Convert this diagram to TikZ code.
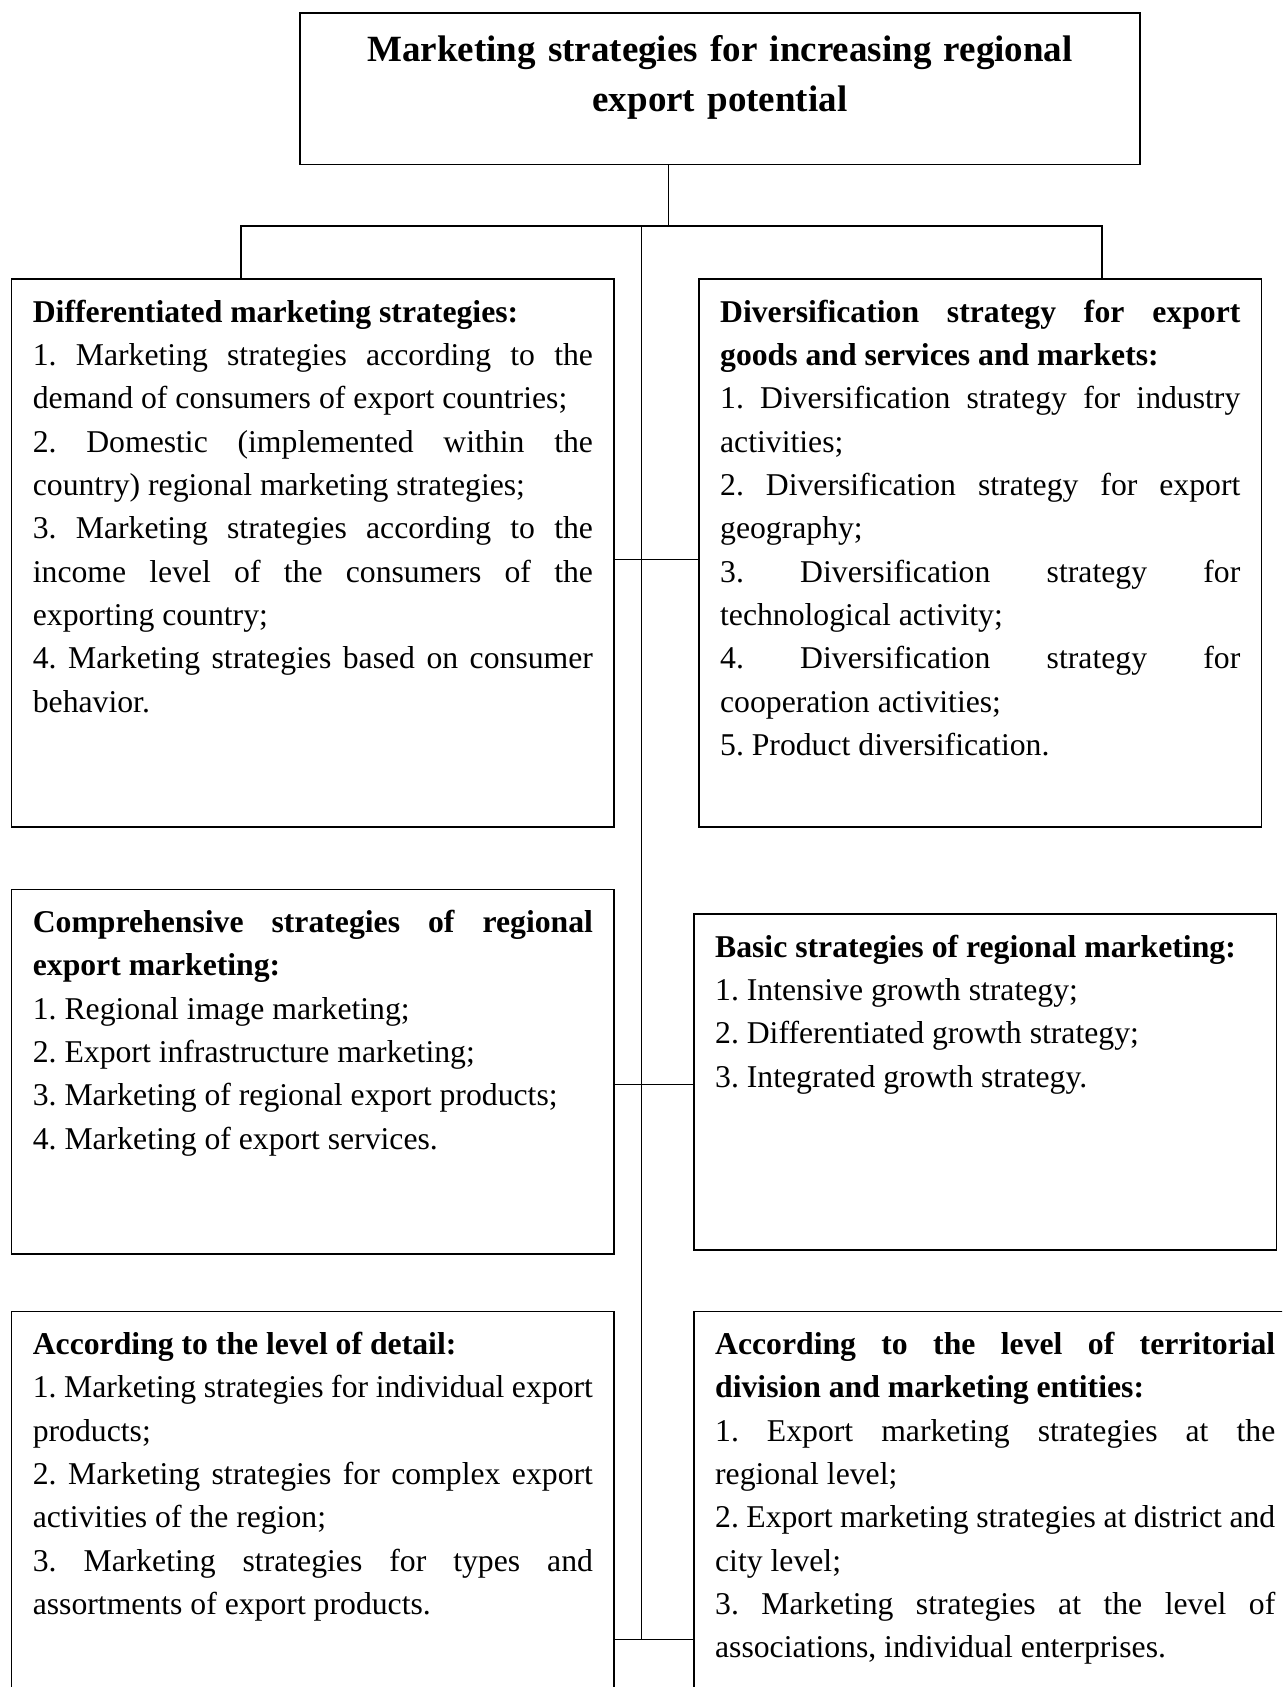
\documentclass[tikz,border=0pt]{standalone}
\usepackage{fontspec}
\setmainfont{Liberation Serif}
\frenchspacing
\tikzset{
	box/.style={draw, line width=0.6pt, anchor=north west, outer sep=0pt, inner xsep=8pt, inner ysep=0pt,
		align=justify, text height=16.4pt, font=\fontsize{12}{16.4}\selectfont,
		execute at begin node={\frenchspacing\hyphenpenalty=10000 \tolerance=10000 \emergencystretch=0pt}},
	titlebox/.style={box, align=center, text height=18.3pt, font=\fontsize{14}{18.9}\selectfont\bfseries},
	link/.style={line width=0.45pt}
}

\begin{document}
\begin{tikzpicture}[x=0.3785pt, y=-0.3785pt]
	\clip (0,0) rectangle (1282,1687);
	
	% --- Title ---
	\node[titlebox, text width=301.9pt, text depth=39pt] (title) at (300,13.3)
		{Marketing strategies for increasing regional\\ export potential};
	
	% --- Left column ---
	\node[box, text width=212pt, text depth=191.1pt] (diff) at (11.7,279) {%
		\textbf{Differentiated marketing strategies:}\par
		1. Marketing strategies according to the\linebreak demand of consumers of export countries;\par
		2. Domestic (implemented within the\linebreak country) regional marketing strategies;\par
		3. Marketing strategies according to the\linebreak income level of the consumers of the\linebreak exporting country;\par
		4. Marketing strategies based on consumer\linebreak behavior.};
	\node[box, text width=212pt, text depth=121.6pt] (compr) at (11.7,889.3) {%
		\textbf{Comprehensive strategies of regional\linebreak export marketing:}\par
		1. Regional image marketing;\par
		2. Export infrastructure marketing;\par
		3. Marketing of regional export products;\par
		4. Marketing of export services.};
	\node[box, text width=212pt, text depth=138.3pt] (detail) at (11.7,1311.3) {%
		\textbf{According to the level of detail:}\par
		1. Marketing strategies for individual export\linebreak products;\par
		2. Marketing strategies for complex export\linebreak activities of the region;\par
		3. Marketing strategies for types and\linebreak assortments of export products.};
	
	% --- Right column ---
	\node[box, text width=196.9pt, text depth=191.1pt] (divers) at (699,279) {%
		\textbf{Diversification strategy for export\linebreak goods and services and markets:}\par
		1. Diversification strategy for industry\linebreak activities;\par
		2. Diversification strategy for export\linebreak geography;\par
		3. Diversification strategy for\linebreak technological activity;\par
		4. Diversification strategy for\linebreak cooperation activities;\par
		5. Product diversification.};
	\node[box, text width=204.4pt, text depth=110.9pt] (basic) at (694,913.9) {%
		\textbf{Basic strategies of regional marketing:}\par
		1. Intensive growth strategy;\par
		2. Differentiated growth strategy;\par
		3. Integrated growth strategy.};
	\node[box, text width=212pt, text depth=138.3pt] (territ) at (694,1311.3) {%
		\textbf{According to the level of territorial\linebreak division and marketing entities:}\par
		1. Export marketing strategies at the\linebreak regional level;\par
		2. Export marketing strategies at district and\linebreak city level;\par
		3. Marketing strategies at the level of\linebreak associations, individual enterprises.};
	
	% --- Connectors ---
	\coordinate (fork) at (668.7,226);
	\coordinate (lfork) at (241,226);
	\coordinate (rfork) at (1102,226);
	\coordinate (spinetop) at (641.3,226);
	\coordinate (spineend) at (641.3,1639.3);
	\coordinate (j1) at (641.3,559.3);
	\coordinate (j2) at (641.3,1084.3);
	
	\draw[link] (title.south -| fork) -- (fork);
	\draw[link] (diff.north -| lfork) -- (lfork) -- (rfork) -- (divers.north -| rfork);
	\draw[link] (spinetop) -- (spineend);
	\draw[link] (diff.east |- j1) -- (divers.west |- j1);
	\draw[link] (compr.east |- j2) -- (basic.west |- j2);
	\draw[link] (detail.east |- spineend) -- (territ.west |- spineend);
\end{tikzpicture}
\end{document}
